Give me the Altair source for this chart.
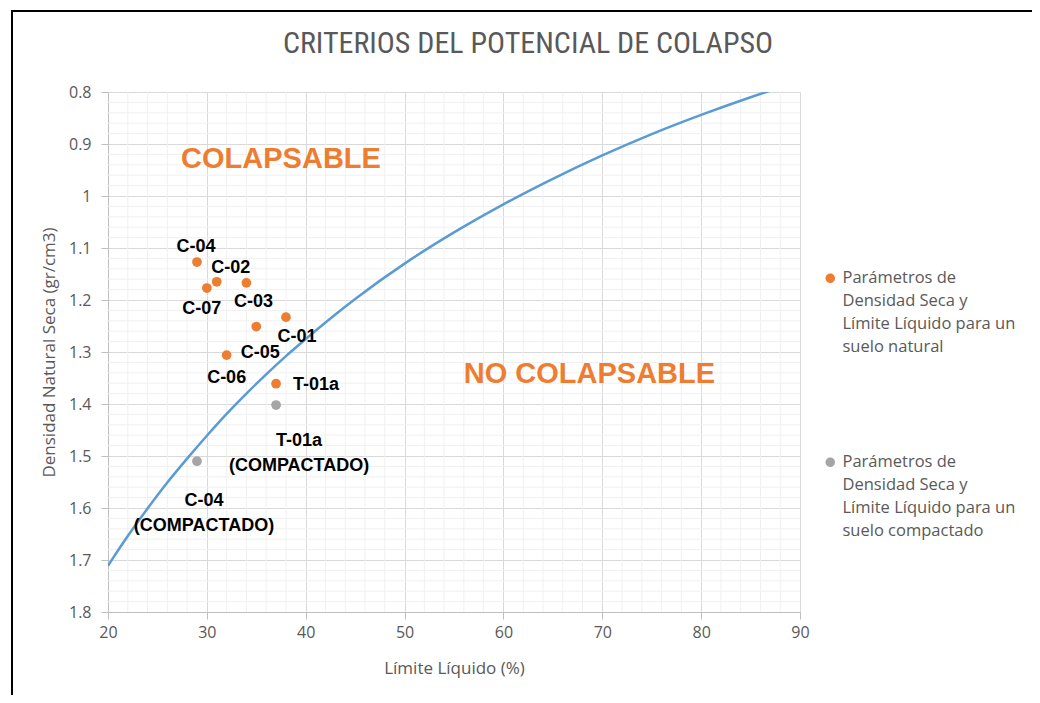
import altair as alt
import pandas as pd

# ---------------- data ----------------
ll_natural = [38, 31, 34, 29, 35, 32, 30, 37]
dens_natural = [1.233, 1.165, 1.167, 1.127, 1.251, 1.306, 1.177, 1.361]
names_natural = ["C-01", "C-02", "C-03", "C-04", "C-05", "C-06", "C-07", "T-01a"]

ll_compact = [37, 29]
dens_compact = [1.402, 1.510]
names_compact = ["T-01a|(COMPACTADO)", "C-04|(COMPACTADO)"]

curve_ll = [20, 22, 24, 26, 28, 30, 32, 34, 36, 38, 40, 45, 50, 55, 60, 65, 70, 75, 80, 85, 88]
curve_dens = [1.711, 1.654, 1.601, 1.551, 1.505, 1.461, 1.419, 1.380, 1.343, 1.308, 1.275,
              1.198, 1.130, 1.070, 1.016, 0.967, 0.922, 0.881, 0.844, 0.810, 0.791]

x_ticks = [20, 30, 40, 50, 60, 70, 80, 90]
y_ticks = [0.8, 0.9, 1.0, 1.1, 1.2, 1.3, 1.4, 1.5, 1.6, 1.7, 1.8]
x_minor = [v for v in range(20, 91, 2) if v % 10 != 0]
y_minor = [round(0.8 + 0.02 * i, 2) for i in range(51) if i % 5 != 0]

zones = ["COLAPSABLE", "NO COLAPSABLE"]
zone_ll = [37.5, 68.7]
zone_dens = [0.929, 1.342]

series_nat = "Parámetros de|Densidad Seca y|Límite Líquido para un|suelo natural"
series_comp = "Parámetros de|Densidad Seca y|Límite Líquido para un|suelo compactado"

# label offsets (pixels) for each point label
label_off_nat = {"C-01": (11, 20), "C-02": (14, -14), "C-03": (7, 19), "C-04": (-1, -15),
                 "C-05": (4, 26), "C-06": (0, 23), "C-07": (-5, 21), "T-01a": (40, 1)}
label_off_comp = {"T-01a|(COMPACTADO)": (23, 36), "C-04|(COMPACTADO)": (7, 40)}

# ---------------- tables ----------------
pts = pd.DataFrame({
    "ll": ll_natural + ll_compact,
    "dens": dens_natural + dens_compact,
    "name": names_natural + names_compact,
    "serie": [series_nat] * len(ll_natural) + [series_comp] * len(ll_compact),
})
curve = pd.DataFrame({"ll": curve_ll, "dens": curve_dens})
xminor_df = pd.DataFrame({"ll": x_minor})
yminor_df = pd.DataFrame({"dens": y_minor})
zones_df = pd.DataFrame({"t": zones, "ll": zone_ll, "dens": zone_dens})

GRAY_TXT = "#595959"
GUIDE_FONT = "Open Sans"
TITLE_FONT = "Liberation Sans Narrow, Roboto Condensed, Lato"

xscale = alt.Scale(domain=[20, 90], nice=False, zero=False)
yscale = alt.Scale(domain=[0.8, 1.8], reverse=True, nice=False, zero=False)

xaxis = alt.Axis(values=x_ticks, title="Límite Líquido (%)", grid=True,
                 gridColor="#d9d9d9", domainColor="#bfbfbf", tickColor="#bfbfbf",
                 tickSize=7, labelPadding=5, titlePadding=20, format="d", labelFlush=False)
yaxis = alt.Axis(values=y_ticks, title="Densidad Natural Seca (gr/cm3)", grid=True,
                 gridColor="#d9d9d9", domainColor="#bfbfbf", tickColor="#bfbfbf",
                 tickSize=7, labelPadding=10, titlePadding=10, format="~g", labelFlush=False)


def X(field="ll"):
    return alt.X(f"{field}:Q", scale=xscale, axis=xaxis)


def Y(field="dens"):
    return alt.Y(f"{field}:Q", scale=yscale, axis=yaxis)


# minor grid
gx = alt.Chart(xminor_df).mark_rule(color="#f0f0f0", strokeWidth=1).encode(x=X())
gy = alt.Chart(yminor_df).mark_rule(color="#f0f0f0", strokeWidth=1).encode(y=Y())

line = alt.Chart(curve).mark_line(color="#5B9BD5", strokeWidth=2.5, interpolate="monotone",
                                  clip=True).encode(x=X(), y=Y(), order="ll:Q")

# circle shifted down so that it sits level with the first line of a multi-line legend label
legend_symbol = "M -1 1.69 A 1 1 0 1 0 1 1.69 A 1 1 0 1 0 -1 1.69 Z"

points = alt.Chart(pts).mark_circle(size=95, opacity=1).encode(
    x=X(), y=Y(),
    color=alt.Color("serie:N",
                    scale=alt.Scale(domain=[series_nat, series_comp], range=["#ED7D31", "#A5A5A5"]),
                    legend=alt.Legend(title=None, orient="none", legendX=714, legendY=170,
                                      labelExpr="split(datum.label, '|')",
                                      labelFont=GUIDE_FONT, labelFontSize=16.5, labelColor=GRAY_TXT,
                                      labelLimit=0, symbolType=legend_symbol, symbolSize=90,
                                      rowPadding=90, labelBaseline="top", labelOffset=4)),
)

layers = [gx, gy, line, points]
for nm, (dx, dy) in label_off_nat.items():
    layers.append(
        alt.Chart(pts).transform_filter(alt.datum.name == nm).mark_text(
            font="Liberation Sans", fontWeight="bold", fontSize=18, color="black",
            dx=dx, dy=dy, align="center", baseline="middle").encode(
            x=X(), y=Y(), text="name:N"))
for nm, (dx, dy) in label_off_comp.items():
    layers.append(
        alt.Chart(pts).transform_filter(alt.datum.name == nm)
        .transform_calculate(lab="split(datum.name, '|')")
        .mark_text(font="Liberation Sans", fontWeight="bold", fontSize=18, color="black",
                   dx=dx, dy=dy, align="center", baseline="middle", lineHeight=25).encode(
            x=X(), y=Y(), text="lab:N"))

zone_txt = alt.Chart(zones_df).mark_text(font="Liberation Sans", fontWeight="bold", fontSize=29,
                                         color="#ED7D31", align="center", baseline="middle").encode(
    x=X(), y=Y(), text="t:N")
layers.append(zone_txt)

# outer frame of the chart (top and left edges visible in the reference)
frame_top = alt.Chart(pd.DataFrame({"k": [0]})).mark_rule(
    color="black", strokeWidth=2, clip=False).encode(
    x=alt.value(-97), x2=alt.value(1000), y=alt.value(-81))
frame_left = alt.Chart(pd.DataFrame({"k": [0]})).mark_rule(
    color="black", strokeWidth=2, clip=False).encode(
    x=alt.value(-96), y=alt.value(-82), y2=alt.value(700))
layers += [frame_top, frame_left]

chart = alt.layer(*layers).properties(
    width=692, height=520,
    title=alt.TitleParams("CRITERIOS DEL POTENCIAL DE COLAPSO", anchor="middle", dx=74,
                          offset=-50, font=TITLE_FONT, fontSize=30, fontWeight="normal",
                          color=GRAY_TXT),
    padding={"left": 100, "top": 84, "right": 232, "bottom": 83},
    autosize=alt.AutoSizeParams(type="none"),
).configure(style={"guide-label": {"lineHeight": 23}}).configure_view(stroke=None).configure_axis(
    labelFont=GUIDE_FONT, labelFontSize=16, labelColor=GRAY_TXT,
    titleFont=GUIDE_FONT, titleFontSize=17, titleColor=GRAY_TXT, titleFontWeight="normal",
)

chart.save("out.html", embed_options={"renderer": "svg", "actions": False})
